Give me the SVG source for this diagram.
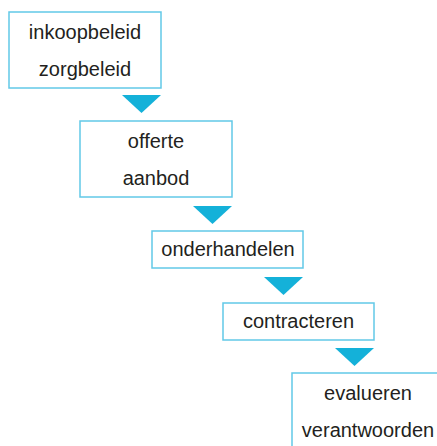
<svg xmlns="http://www.w3.org/2000/svg" width="437" height="446" viewBox="0 0 437 446">
<style>
.box{fill:#ffffff;stroke:#62c9e7;stroke-width:1.5}
.t{font-family:"Liberation Sans",Arial,sans-serif;font-size:20px;fill:#231f20;text-anchor:middle}
.arr{fill:#14b1d9}
</style>
<rect width="437" height="446" fill="#ffffff"/>
<g id="n1">
<rect class="box" x="9" y="12" width="152" height="76"/>
<text class="t" x="85" y="39">inkoopbeleid</text>
<text class="t" x="85" y="76">zorgbeleid</text>
</g>
<g id="n2">
<rect class="box" x="80" y="121" width="152" height="76"/>
<text class="t" x="156" y="148">offerte</text>
<text class="t" x="156" y="185">aanbod</text>
</g>
<g id="n3">
<rect class="box" x="152" y="231" width="151" height="37"/>
<text class="t" x="228" y="256">onderhandelen</text>
</g>
<g id="n4">
<rect class="box" x="223" y="303" width="151" height="37"/>
<text class="t" x="298.5" y="328">contracteren</text>
</g>
<g id="n5">
<rect class="box" x="292" y="373" width="152" height="76"/>
<text class="t" x="368" y="400">evalueren</text>
<text class="t" x="368" y="437">verantwoorden</text>
</g>
<g id="connectors">
<polygon class="arr" points="122,95 161,95 141.5,113"/>
<polygon class="arr" points="193,206 232,206 212.5,224"/>
<polygon class="arr" points="264,277 303,277 283.5,295"/>
<polygon class="arr" points="335,348 374,348 354.5,366"/>
</g>
</svg>
